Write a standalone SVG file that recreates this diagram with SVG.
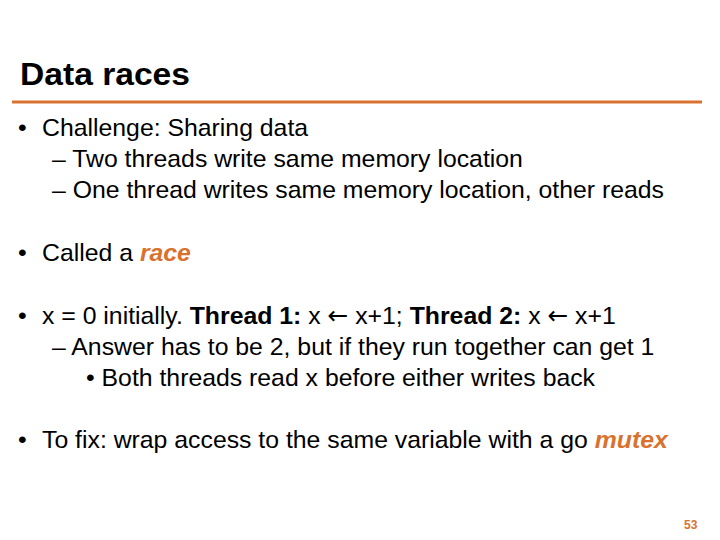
<svg xmlns="http://www.w3.org/2000/svg" width="720" height="540" viewBox="0 0 720 540">
<style>
text{font-family:"Liberation Sans",Arial,sans-serif;fill:#000}
.b{font-size:24.8px}
.o{fill:#D9722F;font-weight:bold;font-style:italic}
.a{font-family:"DejaVu Sans",sans-serif}
</style>
<rect width="720" height="540" fill="#fff"/>
<text x="20" y="85" font-size="31" font-weight="bold" textLength="170" lengthAdjust="spacingAndGlyphs">Data races</text>
<line x1="12" y1="102" x2="702" y2="102" stroke="#D9722F" stroke-width="3"/>
<g>
<text class="b" x="18" y="136">•</text><text class="b" x="42" y="136">Challenge: Sharing data</text>
<text class="b" x="52" y="167">– Two threads write same memory location</text>
<text class="b" x="52" y="198">– One thread writes same memory location, other reads</text>
<text class="b" x="18" y="261">•</text><text class="b" x="42" y="261">Called a <tspan class="o">race</tspan></text>
<text class="b" x="18" y="324">•</text><text class="b" x="42" y="324">x = 0 initially. <tspan font-weight="bold">Thread 1:</tspan> x <tspan class="a">←</tspan> x+1; <tspan font-weight="bold">Thread 2:</tspan> x <tspan class="a">←</tspan> x+1</text>
<text class="b" x="52" y="355">– Answer has to be 2, but if they run together can get 1</text>
<text class="b" x="86" y="386">• Both threads read x before either writes back</text>
<text class="b" x="18" y="448">•</text><text class="b" x="42" y="448">To fix: wrap access to the same variable with a go <tspan class="o">mutex</tspan></text>
</g>
<text x="684" y="529" font-size="12" font-weight="bold" style="fill:#D9722F">53</text>
</svg>
